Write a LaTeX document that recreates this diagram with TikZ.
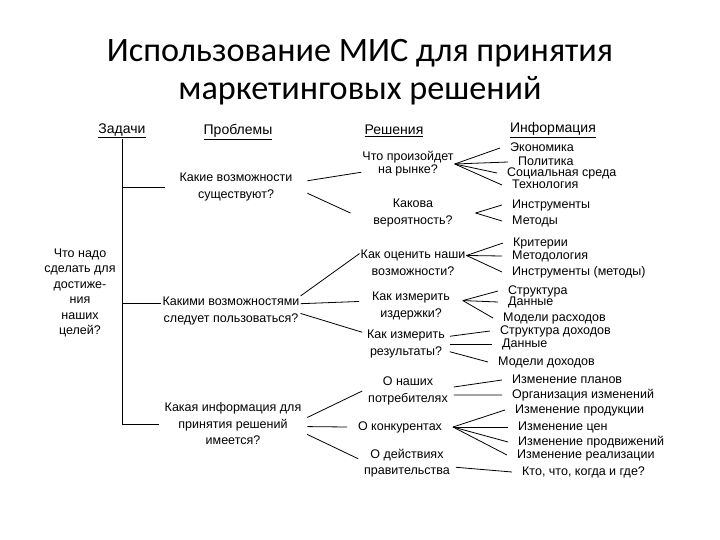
\documentclass[tikz,border=0pt]{standalone}
\usepackage{fontspec}
\setmainfont{Liberation Sans}
\newfontfamily\titlefont{Carlito}
\usetikzlibrary{positioning,calc}
\colorlet{ink}{black}

\tikzset{
  head/.style={font=\fontsize{14}{16}\selectfont, inner sep=1pt},
  prob/.style={align=center, inner sep=1pt},
  sol/.style={align=center, inner sep=1pt},
  info/.style={anchor=west, inner xsep=10pt, inner ysep=1pt,
               text height=8.6pt, text depth=2.4pt},
  link/.style={draw=ink, line width=0.8pt}
}

\begin{document}
\begin{tikzpicture}[x=1pt,y=-1pt,font=\fontsize{12.5}{16.5}\selectfont,text=ink]
  \useasboundingbox[fill=white] (0,0) rectangle (720,540);
  \node[font=\titlefont\fontsize{34.2}{38}\selectfont, align=center] (title) at (360,72)
    {Использование МИС для принятия\\маркетинговых решений};

  % column heads
  \node[head] (zad) at (122,131) {\underline{Задачи}};
  \node[head] (prb) at (238,132) {\underline{Проблемы}};
  \node[head] (rsh) at (394,131) {\underline{Решения}};
  \node[head] (inf) at (553,130) {\underline{Информация}};

  % tasks and problems
  \node[prob, font=\fontsize{12.5}{15.4}\selectfont] (task) at (80,293)
    {Что надо\\сделать для\\достиже-\\ния\\наших\\целей?};
  \node[prob, outer xsep=14pt] (p1) at (236,187) {Какие возможности\\существуют?};
  \node[prob] (p2) at (231,311) {Какими возможностями\\следует пользоваться?};
  \node[prob, outer xsep=5pt] (p3) at (233,424) {Какая информация для\\принятия решений\\имеется?};

  % solutions
  \node[sol, font=\fontsize{12.5}{13}\selectfont] (r1) at (408,164) {Что произойдет\\на рынке?};
  \node[sol, outer xsep=22pt] (r2) at (413,213) {Какова\\вероятность?};
  \node[sol] (r3) at (413,263) {Как оценить наши\\возможности?};
  \node[sol, outer xsep=12pt] (r4) at (411,306) {Как измерить\\издержки?};
  \node[sol, outer xsep=4pt] (r5) at (406,344) {Как измерить\\результаты?};
  \node[sol, outer xsep=5pt] (r6) at (408,391) {О наших\\потребителях};
  \node[sol, outer xsep=10pt] (r7) at (400,427) {О конкурентах};
  \node[sol, outer xsep=5pt] (r8) at (407,463) {О действиях\\правительства};

  % information
  \foreach \n/\x/\y/\t in {i1/500/148/Экономика, i2/508/162/Политика,
      i3/497/173/Социальная среда, i4/502/185/Технология,
      i5/502/205/Инструменты, i6/502/221/Методы,
      i7/503/243/Критерии, i8/502/256/Методология,
      i9/502/272/Инструменты (методы), i10/498/291/Структура,
      i11/498/302/Данные, i12/493/318/Модели расходов,
      i13/490/331/Структура доходов, i14/492/344/Данные,
      i15/488/362/Модели доходов, i16/502/380/Изменение планов,
      i17/502/395/Организация изменений, i18/505/410/Изменение продукции,
      i19/508/427/Изменение цен, i20/508/442/Изменение продвижений,
      i21/507/455/Изменение реализации, i22/512/472/{Кто, что, когда и где?}}
    \node[info] (\n) at (\x,\y) {\t};

  % tree of tasks
  \draw[link] (zad.south) -- (zad.south |- p3.west) -- (p3.west);
  \draw[link] (zad.south |- p1.west) -- (p1.west);
  \draw[link] (zad.south |- p2.174) -- (p2.174);

  % problems to solutions
  \draw[link] (p1.5) -- (r1.-170);
  \draw[link] (p1.-5) -- (r2.west);
  \draw[link] (p2.north east) -- (r3.170);
  \draw[link] (p2.6) -- (r4.175);
  \draw[link] (p2.-2) -- (r5.165);
  \draw[link] (p3.5) -- (r6.west);
  \draw[link] (p3.-2) -- (r7.west);
  \draw[link] (p3.-8) -- (r8.175);

  % solutions to information
  \foreach \a/\b in {r1.east/i1, r1.east/i2, r1.east/i3, r1.east/i4,
      r2.east/i5, r2.east/i6, r3.8/i7, r3.8/i8, r3.8/i9,
      r4.6/i10, r4.6/i11, r4.6/i12, r5.10/i13, r5.0/i14, r5.-10/i15,
      r6.5/i16, r6.-5/i17, r7.east/i18, r7.east/i19, r7.east/i20,
      r7.east/i21, r8.-5/i22}
    \draw[link] (\a) -- (\b.west);
\end{tikzpicture}
\end{document}
